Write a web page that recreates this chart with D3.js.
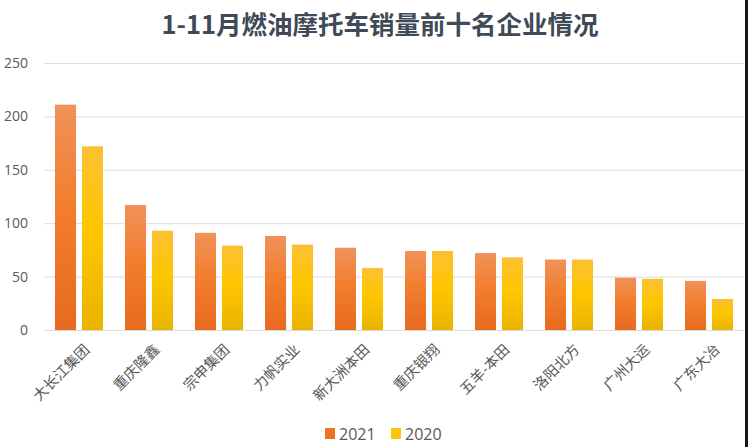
<!DOCTYPE html>
<html>
<head>
<meta charset="utf-8">
<script src="https://cdn.jsdelivr.net/npm/d3@7"></script>
<style>
  html, body { margin: 0; padding: 0; background: #fff; }
  svg { display: block; font-family: "Noto Sans CJK SC", "Noto Sans", sans-serif; }
</style>
</head>
<body>
<div id="container"></div>
<script>
// Chart dimensions
const width = 748;
const height = 447;

// Data (万辆)
const companies = ["大长江集团", "重庆隆鑫", "宗申集团", "力帆实业", "新大洲本田",
                   "重庆银翔", "五羊-本田", "洛阳北方", "广州大运", "广东大冶"];
const sales2021 = [211, 117, 91, 88, 77, 74, 72, 66, 49, 46];
const sales2020 = [172, 93, 79, 80, 58, 74, 68, 66, 48, 29];
const seriesNames = ["2021", "2020"];
const yTicks = [0, 50, 100, 150, 200, 250];

const rows = companies.map((c, i) => ({ name: c, "2021": sales2021[i], "2020": sales2020[i] }));

const margin = { top: 63, right: 4, bottom: 117, left: 44 };

const svg = d3.select("#container").append("svg")
    .attr("width", width)
    .attr("height", height);

// gradients for the bars
const defs = svg.append("defs");
const grads = {
    "2021": [["0%", "#f0925a"], ["45%", "#f27e2e"], ["100%", "#e86a1e"]],
    "2020": [["0%", "#fbc035"], ["45%", "#ffc600"], ["100%", "#e9b400"]]
};
Object.entries(grads).forEach(([k, stops]) => {
    const g = defs.append("linearGradient")
        .attr("id", "g" + k)
        .attr("x1", 0).attr("y1", 0).attr("x2", 0).attr("y2", 1);
    stops.forEach(s => g.append("stop").attr("offset", s[0]).attr("stop-color", s[1]));
});
const legendColor = { "2021": "#ee7424", "2020": "#fcc40a" };

const x0 = d3.scaleBand()
    .domain(companies)
    .range([margin.left, width - margin.right])
    .paddingInner(22 / 70)
    .paddingOuter(11 / 70);

const x1 = d3.scaleBand()
    .domain(seriesNames)
    .range([0, x0.bandwidth()])
    .paddingInner(0.22);

const y = d3.scaleLinear()
    .domain([0, 250])
    .range([height - margin.bottom, margin.top]);

// title
svg.append("text")
    .attr("x", 380)
    .attr("y", 34)
    .attr("text-anchor", "middle")
    .attr("font-size", 25.5)
    .attr("font-weight", "bold")
    .attr("fill", "#404a56")
    .text("1-11月燃油摩托车销量前十名企业情况");

// y axis with gridlines
const yAxis = svg.append("g")
    .attr("transform", `translate(${margin.left},0)`)
    .call(d3.axisLeft(y)
        .tickValues(yTicks)
        .tickSize(-(width - margin.left - margin.right))
        .tickPadding(16));
yAxis.select(".domain").remove();
yAxis.selectAll(".tick line").attr("stroke", "#dcdcdc");
yAxis.selectAll(".tick text")
    .attr("fill", "#595959")
    .attr("font-size", 14)
    .attr("font-family", "'Open Sans', 'Noto Sans', sans-serif");

// bars
const group = svg.append("g")
    .selectAll("g")
    .data(rows)
    .join("g")
    .attr("transform", d => `translate(${x0(d.name)},0)`);

group.selectAll("rect")
    .data(d => seriesNames.map(k => ({ key: k, value: d[k] })))
    .join("rect")
    .attr("x", d => x1(d.key))
    .attr("y", d => y(d.value))
    .attr("width", x1.bandwidth())
    .attr("height", d => y(0) - y(d.value))
    .attr("fill", d => `url(#g${d.key})`);

// x labels, rotated
svg.append("g")
    .selectAll("text")
    .data(companies)
    .join("text")
    .attr("transform", d => `translate(${x0(d) + x0.bandwidth() / 2 + 8},${y(0) + 17}) rotate(-45)`)
    .attr("text-anchor", "end")
    .attr("dy", "0.35em")
    .attr("font-size", 14.5)
    .attr("fill", "#595959")
    .text(d => d);

// legend
const legend = svg.append("g")
    .selectAll("g")
    .data(seriesNames)
    .join("g")
    .attr("transform", (d, i) => `translate(${325 + i * 66},428)`);

legend.append("rect")
    .attr("width", 10)
    .attr("height", 11)
    .attr("fill", d => legendColor[d]);

legend.append("text")
    .attr("x", 14)
    .attr("y", 6)
    .attr("dy", "0.35em")
    .attr("font-size", 16)
    .attr("font-family", "'Open Sans', 'Noto Sans', sans-serif")
    .attr("fill", "#595959")
    .text(d => d);

// dark edge on the right side of the picture
svg.append("rect")
    .attr("x", 745)
    .attr("y", 0)
    .attr("width", 3)
    .attr("height", height)
    .attr("fill", "#161616");
</script>
</body>
</html>
